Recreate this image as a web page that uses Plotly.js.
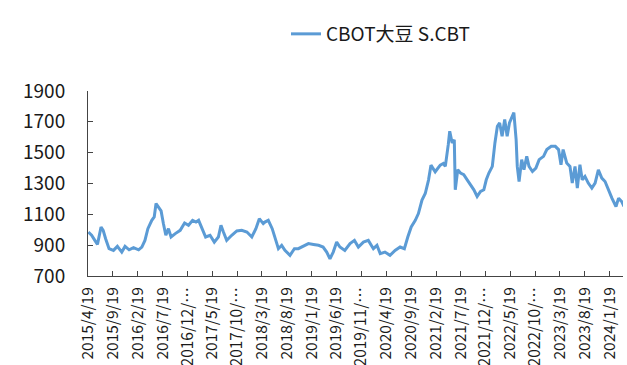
<!DOCTYPE html>
<html>
<head>
<meta charset="utf-8">
<script src="https://cdn.plot.ly/plotly-3.0.1.min.js"></script>
<style>html,body{margin:0;padding:0;background:#fff;}#chart{width:627px;height:365px;}</style>
</head>
<body>
<div id="chart"></div>
<script>
var seriesName = 'CBOT大豆 S.CBT';

var dates = [
'2015-04-21','2015-05-11','2015-05-31','2015-06-16','2015-07-08','2015-07-21','2015-08-05','2015-08-26','2015-09-22','2015-10-16',
'2015-11-12','2015-12-02','2015-12-27','2016-01-23','2016-02-23','2016-03-14','2016-04-02','2016-04-20','2016-05-14','2016-05-29',
'2016-06-09','2016-06-24','2016-07-10','2016-07-24','2016-08-08','2016-08-24','2016-09-09','2016-10-05','2016-11-04','2016-12-01',
'2016-12-25','2017-01-19','2017-02-09','2017-02-25','2017-03-18','2017-04-09','2017-05-06','2017-06-01','2017-06-26','2017-07-12',
'2017-07-27','2017-08-16','2017-09-16','2017-10-17','2017-11-16','2017-12-18','2018-01-17','2018-02-11','2018-03-04','2018-03-28',
'2018-04-07','2018-04-28','2018-05-22','2018-06-08','2018-06-29','2018-07-19','2018-08-08','2018-09-08','2018-10-05','2018-10-29',
'2018-11-29','2018-12-30','2019-01-30','2019-03-02','2019-03-30','2019-04-21','2019-05-11','2019-05-31','2019-06-21','2019-07-11',
'2019-08-10','2019-09-11','2019-10-08','2019-11-01','2019-12-02','2020-01-01','2020-02-01','2020-02-23','2020-03-14','2020-04-12',
'2020-05-13','2020-06-13','2020-07-14','2020-08-09','2020-08-30','2020-09-20','2020-10-15','2020-11-03','2020-11-25','2020-12-15',
'2021-01-04','2021-01-19','2021-02-14','2021-03-17','2021-04-05','2021-04-17','2021-05-05','2021-05-14','2021-05-29','2021-06-11',
'2021-06-17','2021-07-02','2021-07-19','2021-08-08','2021-08-29','2021-09-19','2021-10-09','2021-10-29','2021-11-19','2021-12-09',
'2021-12-24','2022-01-09','2022-01-30','2022-02-15','2022-03-02','2022-03-16','2022-03-31','2022-04-16','2022-05-01','2022-05-15',
'2022-05-29','2022-06-11','2022-06-25','2022-07-02','2022-07-13','2022-07-29','2022-08-12','2022-08-29','2022-09-12','2022-10-03',
'2022-10-24','2022-11-13','2022-12-10','2022-12-30','2023-01-26','2023-02-20','2023-03-12','2023-03-27','2023-04-09','2023-05-01',
'2023-05-21','2023-06-04','2023-06-21','2023-07-05','2023-07-21','2023-08-04','2023-08-21','2023-09-10','2023-10-02','2023-10-22',
'2023-11-11','2023-12-02','2023-12-22','2024-01-11','2024-02-02','2024-02-27','2024-03-14','2024-04-02','2024-04-16'
];

var prices = [
985,964,931,905,1018,996,942,877,866,892,
855,892,870,884,870,888,931,1007,1061,1083,
1170,1148,1122,1040,964,1007,953,975,996,1044,
1029,1061,1050,1061,1007,953,964,920,953,1029,
985,931,964,992,996,985,953,1007,1072,1040,
1050,1061,1007,953,877,899,866,834,877,877,
892,910,905,899,888,855,812,855,920,888,
866,910,931,888,920,931,877,899,845,855,
834,866,888,877,953,1018,1061,1105,1192,1235,
1322,1419,1376,1419,1430,1411,1552,1639,1563,1584,
1259,1389,1368,1357,1324,1292,1259,1216,1248,1259,
1324,1368,1411,1563,1671,1693,1606,1715,1606,1693,
1726,1760,1584,1411,1313,1455,1389,1476,1411,1378,
1400,1455,1476,1520,1541,1541,1520,1422,1520,1433,
1411,1303,1411,1270,1422,1324,1346,1303,1270,1303,
1389,1335,1313,1259,1205,1151,1205,1183,1151
];

var tickDates = ['2015-04-19','2015-09-19','2016-02-19','2016-07-19','2016-12-19','2017-05-19','2017-10-19','2018-03-19','2018-08-19','2019-01-19','2019-06-19','2019-11-19','2020-04-19','2020-09-19','2021-02-19','2021-07-19','2021-12-19','2022-05-19','2022-10-19','2023-03-19','2023-08-19','2024-01-19'];
var tickLabels = ['2015/4/19','2015/9/19','2016/2/19','2016/7/19','2016/12/…','2017/5/19','2017/10/…','2018/3/19','2018/8/19','2019/1/19','2019/6/19','2019/11/…','2020/4/19','2020/9/19','2021/2/19','2021/7/19','2021/12/…','2022/5/19','2022/10/…','2023/3/19','2023/8/19','2024/1/19'];
var yTicks = [700,900,1100,1300,1500,1700,1900];

var FONT = '"Noto Sans CJK SC", "Noto Sans", sans-serif';

var trace = {
  x: dates, y: prices, type: 'scatter', mode: 'lines', name: seriesName,
  line: {color: '#5B9BD5', width: 3}
};

var layout = {
  width: 627, height: 365,
  margin: {l: 88, r: 4, t: 91, b: 89},
  paper_bgcolor: '#fff', plot_bgcolor: '#fff',
  font: {family: FONT, color: '#1a1a1a'},
  showlegend: true,
  legend: {
    orientation: 'h', xref: 'container', yref: 'container',
    x: 286/627, xanchor: 'left', y: 1 - 34/365, yanchor: 'middle',
    font: {family: FONT, size: 19, color: '#1a1a1a'},
    bgcolor: 'rgba(0,0,0,0)'
  },
  xaxis: {
    type: 'date', range: ['2015-04-19', '2024-04-10'],
    tickmode: 'array', tickvals: tickDates, ticktext: tickLabels,
    tickangle: -90, ticks: 'inside', ticklen: 5, tickcolor: '#444', tickwidth: 1,
    showline: true, linecolor: '#444', linewidth: 1,
    showgrid: false, zeroline: false,
    tickfont: {family: FONT, size: 15.5, color: '#1a1a1a'},
    ticklabelstandoff: 4
  },
  yaxis: {
    range: [700, 1900], tickmode: 'array', tickvals: yTicks,
    ticks: 'inside', ticklen: 5, tickcolor: '#444', tickwidth: 1,
    showline: true, linecolor: '#444', linewidth: 1,
    showgrid: false, zeroline: false,
    tickfont: {family: FONT, size: 19, color: '#1a1a1a'},
    ticklabelstandoff: 18
  }
};

Plotly.newPlot('chart', [trace], layout, {displayModeBar: false, staticPlot: true});
</script>
</body>
</html>
